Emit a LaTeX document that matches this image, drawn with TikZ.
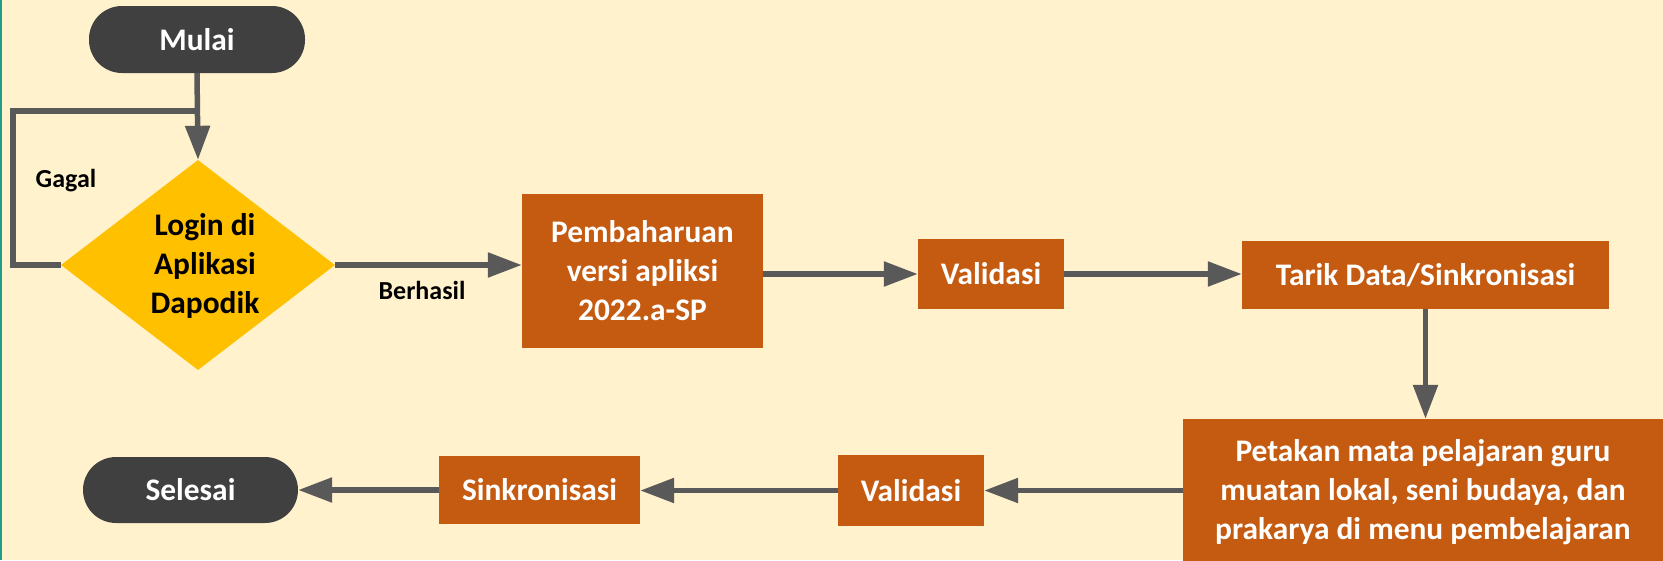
\documentclass[tikz,border=0pt]{standalone}
\usepackage{fontspec}
\setmainfont{Carlito}
\usetikzlibrary{arrows.meta,shapes.geometric}
\definecolor{bgcol}{HTML}{FFF2CC}
\definecolor{boxcol}{HTML}{C55A11}
\definecolor{termcol}{HTML}{404040}
\definecolor{diacol}{HTML}{FFC000}
\definecolor{conncol}{HTML}{595959}
\definecolor{edgecol}{HTML}{1F9E89}
\begin{document}
\begin{tikzpicture}[x=1pt,y=-1pt,
  proc/.style={rectangle, fill=boxcol, text=white, inner sep=0pt, align=center,
    font=\bfseries\fontsize{31.4}{39}\selectfont},
  terminal/.style={rectangle, rounded corners=33pt, fill=termcol, text=white, inner sep=0pt,
    font=\bfseries\fontsize{31.4}{39}\selectfont},
  decision/.style={diamond, fill=diacol, inner sep=0pt, aspect=1.3},
  conn/.style={draw=conncol, line width=5.5pt},
  arr/.style={conn, -{Triangle[length=34pt,width=24pt]}},
  lbl/.style={font=\bfseries\fontsize{26}{31}\selectfont, text=black, inner sep=0pt}
]
\useasboundingbox (0,0) rectangle (1663,560);
\fill[bgcol] (0,0) rectangle (1663,560);
\draw[edgecol, line width=2pt] (1,0) -- (1,560);

% nodes
\node[terminal, minimum width=216pt, minimum height=67pt] (mulai) at (197,39.5) {Mulai};
\node[decision, minimum width=274pt, minimum height=210pt] (login) at (198,265) {};
\node[align=center, inner sep=0pt, text=black, font=\bfseries\fontsize{31.4}{39}\selectfont] (logintext) at (205,266) {Login di\\Aplikasi\\Dapodik};
\node[proc, minimum width=241pt, minimum height=154pt] (pemb) at (642.5,271) {Pembaharuan\\versi apliksi\\2022.a-SP};
\node[proc, minimum width=146pt, minimum height=70pt] (val1) at (991,274) {Validasi};
\node[proc, minimum width=367pt, minimum height=68pt] (tarik) at (1425.5,275) {Tarik Data/Sinkronisasi};
\node[proc, minimum width=480pt, minimum height=146pt] (petakan) at (1423,492) {Petakan mata pelajaran guru\\muatan lokal, seni budaya, dan\\prakarya di menu pembelajaran};
\node[proc, minimum width=146pt, minimum height=71pt] (val2) at (911,490.5) {Validasi};
\node[proc, minimum width=201pt, minimum height=68pt] (sink) at (539.5,490) {Sinkronisasi};
\node[terminal, minimum width=215pt, minimum height=66pt] (selesai) at (190.5,490) {Selesai};

% labels
\node[lbl] (gagal) at (66,181) {Gagal};
\node[lbl] (berhasil) at (422,290) {Berhasil};

% connectors
\coordinate (gcorner) at (13,111);
\coordinate (gjoin) at (198,111);
\draw[conn] (login.west) -| (gcorner) -- (gjoin);
\draw[arr] (mulai.south) -- (login.north);
\draw[arr] (login.east) -- (login.east -| pemb.west);
\draw[arr] (pemb.east |- val1.west) -- (val1.west);
\draw[arr] (val1.east) -- (val1.east -| tarik.west);
\draw[arr] (tarik.south) -- (tarik.south |- petakan.north);
\draw[arr] (petakan.west |- val2.east) -- (val2.east);
\draw[arr] (val2.west) -- (val2.west -| sink.east);
\draw[arr] (sink.west) -- (sink.west -| selesai.east);
\end{tikzpicture}
\end{document}
